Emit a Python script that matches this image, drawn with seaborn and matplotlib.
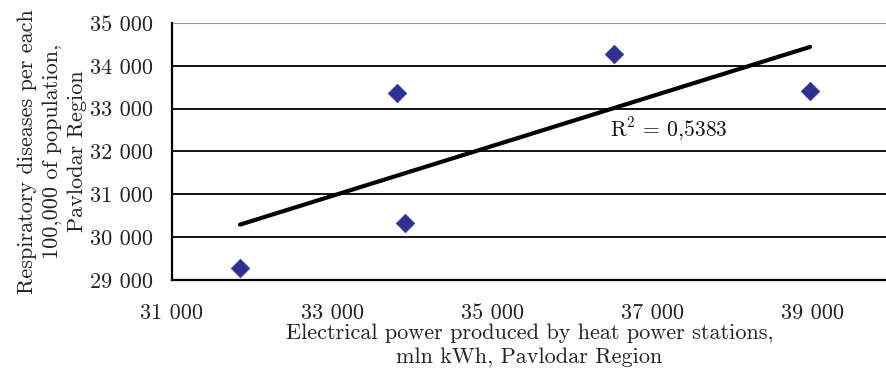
import matplotlib
matplotlib.use("Agg")
import matplotlib.pyplot as plt
import seaborn as sns
import numpy as np
import pandas as pd

# Data
power_mln_kwh = [31850, 33810, 33910, 36525, 38975]
respiratory_per_100k = [29280, 33370, 30330, 34280, 33415]
x_ticks = [31000, 33000, 35000, 37000, 39000]
x_tick_labels = ["31 000", "33 000", "35 000", "37 000", "39 000"]
y_ticks = [29000, 30000, 31000, 32000, 33000, 34000, 35000]
y_tick_labels = ["29 000", "30 000", "31 000", "32 000", "33 000", "34 000", "35 000"]
r2_text = "R$^2$ = 0,5383"

df = pd.DataFrame({"x": power_mln_kwh, "y": respiratory_per_100k})

sns.set_theme(style="white")
plt.rcParams["font.family"] = ["cmr10", "DejaVu Serif"]
plt.rcParams["mathtext.fontset"] = "cm"
plt.rcParams["axes.formatter.use_mathtext"] = True

FS = 16

fig = plt.figure(figsize=(8.87, 3.69), dpi=100)
ax = fig.add_axes([172 / 887, 1 - 280 / 369, 1 - 172 / 887, (280 - 23) / 369])

ax.set_xlim(31000, 39937)
ax.set_ylim(29000, 35000)

for yv in y_ticks[1:-1]:
    ax.axhline(yv, color="black", lw=1.3, zorder=1)
ax.axhline(y_ticks[-1], color="#9a9a9a", lw=1.5, zorder=1)

sns.regplot(data=df, x="x", y="y", scatter=False, ci=None, truncate=True,
            color="black", line_kws={"lw": 3.0, "solid_capstyle": "round", "zorder": 3}, ax=ax)
sns.scatterplot(data=df, x="x", y="y", marker="D", s=90, color="#2E3192",
                edgecolor="#3a3fa0", linewidth=0.5, zorder=4, ax=ax)

ax.text(36470, 32520, r2_text, fontsize=FS - 0.5, va="center", ha="left", color="#111111")

ax.set_xticks(x_ticks)
ax.set_xticklabels(x_tick_labels, fontsize=FS)
ax.set_yticks(y_ticks)
ax.set_yticklabels(y_tick_labels, fontsize=FS)
ax.tick_params(axis="x", direction="out", length=6, width=1.5, pad=11, colors="black", labelcolor="#222222")
ax.tick_params(axis="y", direction="out", length=6, width=1.5, pad=8, colors="black", labelcolor="#222222")

for s in ["top", "right"]:
    ax.spines[s].set_visible(False)
for s in ["left", "bottom"]:
    ax.spines[s].set_color("black")
    ax.spines[s].set_linewidth(1.6)

ax.set_xlabel("Electrical power produced by heat power stations,\nmln kWh, Pavlodar Region",
              fontsize=FS, color="#222222", labelpad=0, linespacing=1.25)
ax.set_ylabel("Respiratory diseases per each\n100,000 of population,\nPavlodar Region",
              fontsize=FS, color="#222222", labelpad=2, linespacing=1.35)

fig.savefig("out.png", dpi=100)
